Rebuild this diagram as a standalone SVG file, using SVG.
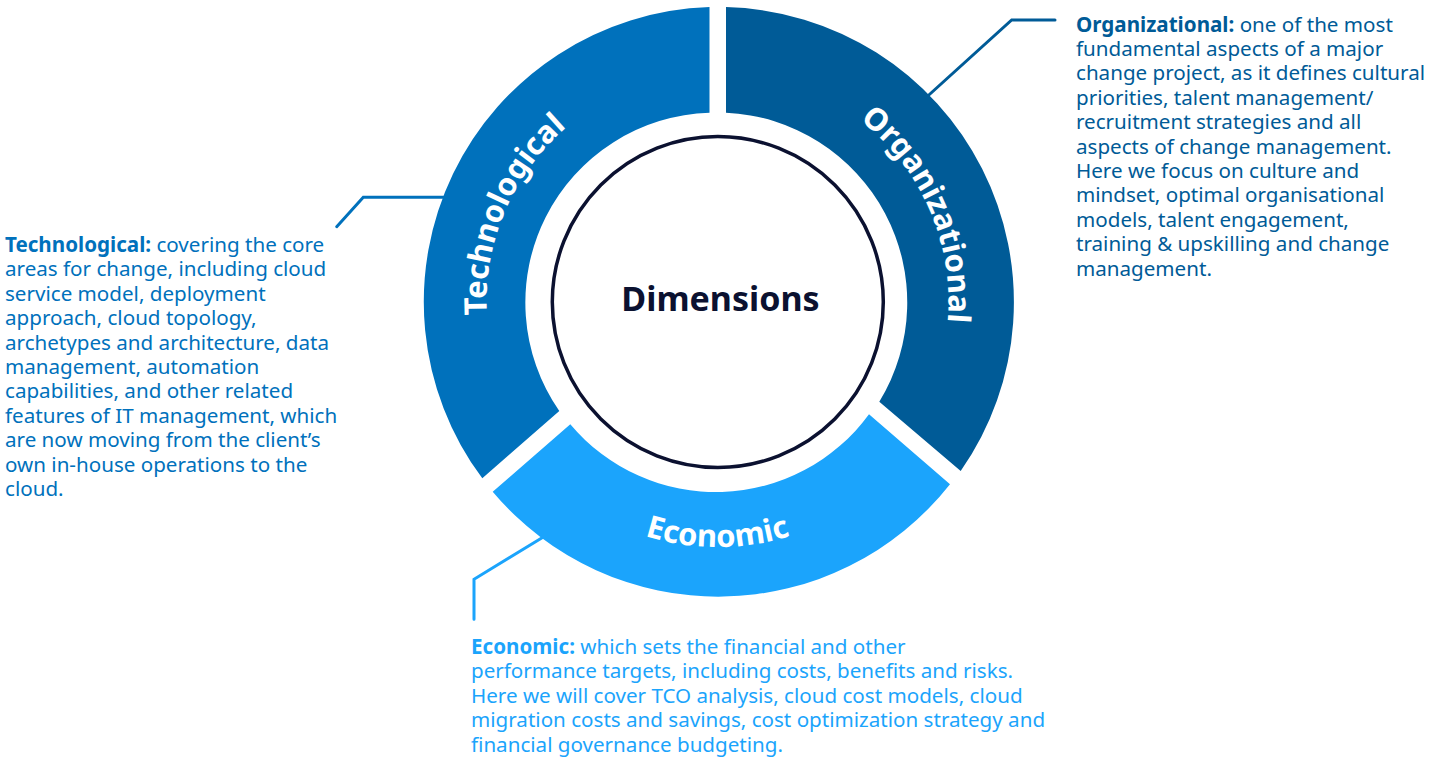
<svg xmlns="http://www.w3.org/2000/svg" width="1448" height="760" viewBox="0 0 1448 760">
<style>
.seg-tech{fill:#0071BC}
.seg-org{fill:#005B97}
.seg-eco{fill:#1BA4FC}
.lbl{font-family:"Noto Sans","Open Sans",sans-serif;font-weight:700;font-size:31px;fill:#ffffff}
.desc{font-family:"Noto Sans","Open Sans",sans-serif;font-size:20.6px}
.b{font-weight:700}
.conn{fill:none;stroke-width:3;stroke-linecap:round;stroke-linejoin:miter}
</style>
<defs>
<path id="p-tech" d="M 517.45,417.5 A 231 231 0 0 1 661.6,77.9"/>
<path id="p-org" d="M 771.4,77.4 A 231 231 0 0 1 918.6,415.7"/>
<path id="p-eco" d="M 505.3,424.5 A 245 245 0 0 0 929.7,424.5"/>
</defs>
<rect width="1448" height="760" fill="#ffffff"/>
<g id="connectors">
<polyline class="conn" stroke="#0071BC" points="336.7,226.7 363.3,197.3 450,197.3"/>
<polyline class="conn" stroke="#005B97" points="925,98.5 1011.7,20 1055,20"/>
<polyline class="conn" stroke="#1BA4FC" points="545,536 474,579.3 474,619.3"/>
</g>
<g id="technological">
<path class="seg-tech" d="M 709.5,7.1 A 295 295 0 0 0 482.3,478.3 L 559.3,411 A 190 190 0 0 1 709.5,112.7 Z"/>
<text class="lbl"><textPath href="#p-tech" startOffset="50%" text-anchor="middle">Technological</textPath></text>
</g>
<g id="organizational">
<path class="seg-org" d="M 726,7.1 A 295 295 0 0 1 960.7,471 L 879.3,401.7 A 190 190 0 0 0 726,112.7 Z"/>
<text class="lbl"><textPath href="#p-org" startOffset="50%" text-anchor="middle">Organizational</textPath></text>
</g>
<g id="economic">
<path class="seg-eco" d="M 950,484.3 A 295 295 0 0 1 492.7,491.7 L 570.3,424.3 A 190 190 0 0 0 869,414.3 Z"/>
<text class="lbl"><textPath href="#p-eco" startOffset="50%" text-anchor="middle">Economic</textPath></text>
</g>
<g id="dimensions">
<circle cx="717.8" cy="302" r="165.5" fill="#ffffff" stroke="#0B1130" stroke-width="3.5"/>
<text x="720.5" y="310.5" text-anchor="middle" font-family="Noto Sans, Open Sans, sans-serif" font-weight="700" font-size="34" fill="#0B1130">Dimensions</text>
</g>
<g id="tech-desc">
<text class="desc" fill="#0071BC">
<tspan x="5" y="252"><tspan class="b">Technological:</tspan> covering the core</tspan>
<tspan x="5" y="276.4">areas for change, including cloud</tspan>
<tspan x="5" y="300.8">service model, deployment</tspan>
<tspan x="5" y="325.2">approach, cloud topology,</tspan>
<tspan x="5" y="349.6">archetypes and architecture, data</tspan>
<tspan x="5" y="374">management, automation</tspan>
<tspan x="5" y="398.4">capabilities, and other related</tspan>
<tspan x="5" y="422.8">features of IT management, which</tspan>
<tspan x="5" y="447.2">are now moving from the client’s</tspan>
<tspan x="5" y="471.6">own in-house operations to the</tspan>
<tspan x="5" y="496">cloud.</tspan>
</text>
</g>
<g id="org-desc">
<text class="desc" fill="#005B97">
<tspan x="1076" y="31.5"><tspan class="b">Organizational:</tspan> one of the most</tspan>
<tspan x="1076" y="55.9">fundamental aspects of a major</tspan>
<tspan x="1076" y="80.3">change project, as it defines cultural</tspan>
<tspan x="1076" y="104.7">priorities, talent management/</tspan>
<tspan x="1076" y="129.1">recruitment strategies and all</tspan>
<tspan x="1076" y="153.5">aspects of change management.</tspan>
<tspan x="1076" y="177.9">Here we focus on culture and</tspan>
<tspan x="1076" y="202.3">mindset, optimal organisational</tspan>
<tspan x="1076" y="226.7">models, talent engagement,</tspan>
<tspan x="1076" y="251.1">training &amp; upskilling and change</tspan>
<tspan x="1076" y="275.5">management.</tspan>
</text>
</g>
<g id="eco-desc">
<text class="desc" fill="#1BA4FC">
<tspan x="471" y="653.5"><tspan class="b">Economic:</tspan> which sets the financial and other</tspan>
<tspan x="471" y="678">performance targets, including costs, benefits and risks.</tspan>
<tspan x="471" y="702.5">Here we will cover TCO analysis, cloud cost models, cloud</tspan>
<tspan x="471" y="727">migration costs and savings, cost optimization strategy and</tspan>
<tspan x="471" y="751.5">financial governance budgeting.</tspan>
</text>
</g>
</svg>
